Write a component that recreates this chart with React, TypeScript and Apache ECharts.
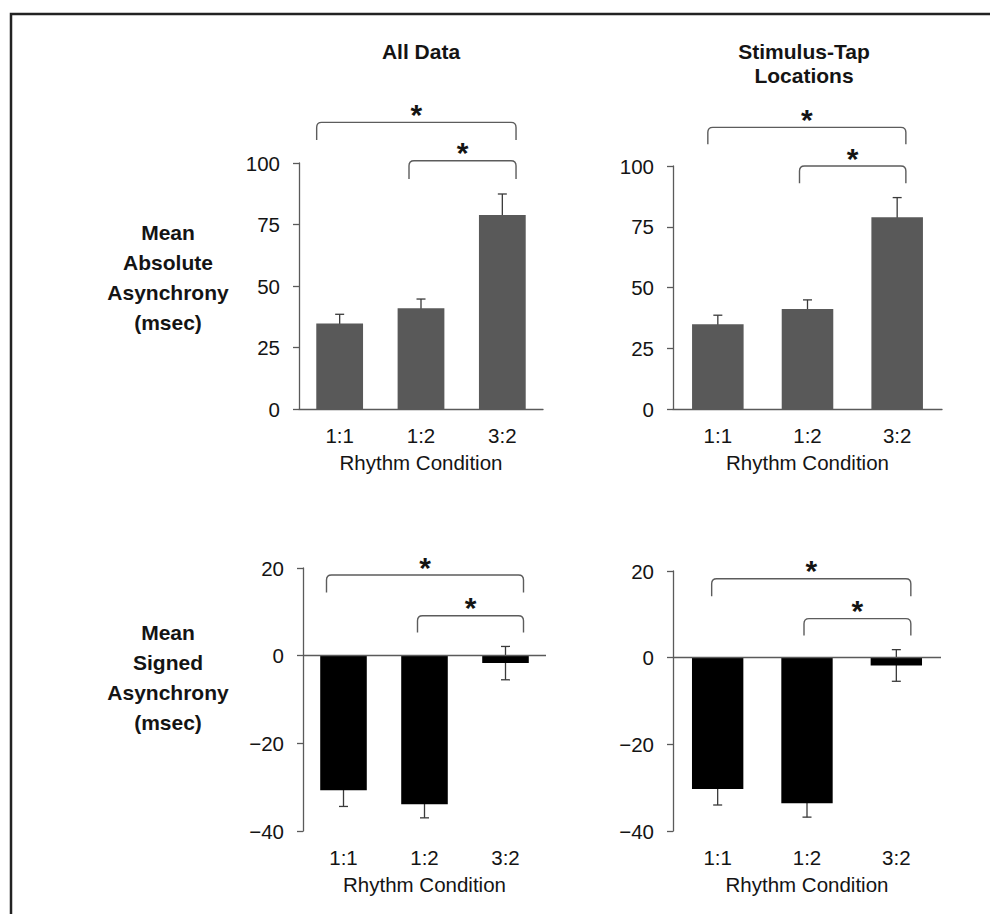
import React, { useEffect, useRef } from "react";
import * as echarts from "echarts";

// ---------- data ----------
const categories = ["1:1", "1:2", "3:2"];

const absAllMean = [34.8, 41.0, 78.9];
const absAllErr = [3.7, 3.7, 8.5];
const absStimMean = [34.9, 41.2, 78.9];
const absStimErr = [3.7, 3.7, 8.1];

const sigAllMean = [-30.7, -33.9, -1.7];
const sigAllErr = [3.7, 3.1, 3.8];
const sigStimMean = [-30.3, -33.6, -1.8];
const sigStimErr = [3.7, 3.2, 3.65];

const absTicks = [0, 25, 50, 75, 100];
const sigTicks = [-40, -20, 0, 20];

// significance comparisons: [fromCategory, toCategory, bracketLevel, legEnd]
const absAllBrackets = [
  [0, 2, 116.5, 109.3],
  [1, 2, 100.9, 93.5],
];
const absStimBrackets = [
  [0, 2, 115.9, 108.9],
  [1, 2, 100.0, 92.9],
];
const sigAllBrackets = [
  [0, 2, 18.4, 14.4],
  [1, 2, 9.1, 5.3],
];
const sigStimBrackets = [
  [0, 2, 18.2, 14.2],
  [1, 2, 9.0, 5.1],
];

const columnTitles = [["All Data"], ["Stimulus-Tap", "Locations"]];
const rowTitles = [
  ["Mean", "Absolute", "Asynchrony", "(msec)"],
  ["Mean", "Signed", "Asynchrony", "(msec)"],
];
const xName = "Rhythm Condition";

// ---------- layout / style ----------
const FONT = "'Liberation Sans', Arial, Helvetica, sans-serif";
const AXIS_COLOR = "#5a5a5a";
const TEXT_COLOR = "#141414";
const FS = 20.5;

type Panel = {
  grid: { left: number; top: number; width: number; height: number };
  means: number[];
  errs: number[];
  ticks: number[];
  color: string;
  brackets: number[][];
  offsets: number[][]; // pixel offsets of bracket ends from category centres
  zeroLine: boolean;
};

const panels: Panel[] = [
  {
    grid: { left: 299, top: 163, width: 244, height: 246 },
    means: absAllMean,
    errs: absAllErr,
    ticks: absTicks,
    color: "#595959",
    brackets: absAllBrackets,
    offsets: [
      [-23, 13.7],
      [-12, 13.7],
    ],
    zeroLine: false,
  },
  {
    grid: { left: 673, top: 166, width: 269, height: 243 },
    means: absStimMean,
    errs: absStimErr,
    ticks: absTicks,
    color: "#595959",
    brackets: absStimBrackets,
    offsets: [
      [-10, 8.7],
      [-8, 8.7],
    ],
    zeroLine: false,
  },
  {
    grid: { left: 303, top: 568, width: 243, height: 263 },
    means: sigAllMean,
    errs: sigAllErr,
    ticks: sigTicks,
    color: "#000000",
    brackets: sigAllBrackets,
    offsets: [
      [-17, 18],
      [-7, 18],
    ],
    zeroLine: true,
  },
  {
    grid: { left: 673, top: 571, width: 268, height: 260 },
    means: sigStimMean,
    errs: sigStimErr,
    ticks: sigTicks,
    color: "#000000",
    brackets: sigStimBrackets,
    offsets: [
      [-6, 14.5],
      [-3, 14.5],
    ],
    zeroLine: true,
  },
];

function buildOption() {
  const grid: any[] = [];
  const xAxis: any[] = [];
  const yAxis: any[] = [];
  const series: any[] = [];

  panels.forEach((p, gi) => {
    grid.push({ ...p.grid, containLabel: false });
    xAxis.push({
      type: "category",
      gridIndex: gi,
      data: categories,
      axisLine: {
        show: !p.zeroLine,
        onZero: false,
        lineStyle: { color: AXIS_COLOR, width: 1.3 },
      },
      axisTick: { show: false },
      axisLabel: {
        margin: 16,
        fontSize: FS,
        fontFamily: FONT,
        color: TEXT_COLOR,
      },
      name: xName,
      nameLocation: "middle",
      nameGap: 43,
      nameTextStyle: { fontSize: FS, fontFamily: FONT, color: TEXT_COLOR },
    });
    const tmin = p.ticks[0];
    const tmax = p.ticks[p.ticks.length - 1];
    yAxis.push({
      type: "value",
      gridIndex: gi,
      min: tmin,
      max: tmax,
      interval: p.ticks[1] - p.ticks[0],
      axisLine: { show: true, lineStyle: { color: AXIS_COLOR, width: 1.3 } },
      axisTick: {
        show: true,
        inside: false,
        length: 6,
        lineStyle: { color: AXIS_COLOR, width: 1.3 },
      },
      splitLine: { show: false },
      axisLabel: {
        margin: 19,
        fontSize: FS,
        fontFamily: FONT,
        color: TEXT_COLOR,
        formatter: (v: number) => (v < 0 ? "\u2212" + Math.abs(v) : String(v)),
      },
    });

    // error bars (drawn beneath the bars)
    series.push({
      type: "custom",
      xAxisIndex: gi,
      yAxisIndex: gi,
      z: 2,
      clip: false,
      silent: true,
      data: p.means.map((m, i) => [i, m, p.errs[i]]),
      encode: { x: 0, y: 1 },
      renderItem: (params: any, api: any) => {
        const x = api.value(0);
        const m = api.value(1);
        const e = api.value(2);
        const hi = api.coord([x, m + e]);
        const lo = api.coord([x, m - e]);
        const hw = 4.5;
        const st = { stroke: "#3a3a3a", lineWidth: 1.3 };
        return {
          type: "group",
          children: [
            { type: "line", shape: { x1: hi[0], y1: hi[1], x2: lo[0], y2: lo[1] }, style: st },
            { type: "line", shape: { x1: hi[0] - hw, y1: hi[1], x2: hi[0] + hw, y2: hi[1] }, style: st },
            { type: "line", shape: { x1: lo[0] - hw, y1: lo[1], x2: lo[0] + hw, y2: lo[1] }, style: st },
          ],
        };
      },
    });

    // bars
    const bar: any = {
      type: "bar",
      xAxisIndex: gi,
      yAxisIndex: gi,
      z: 3,
      barWidth: "57.5%",
      silent: true,
      itemStyle: { color: p.color },
      data: p.means,
    };
    if (p.zeroLine) {
      bar.markLine = {
        silent: true,
        symbol: ["none", "none"],
        label: { show: false },
        lineStyle: { type: "solid", color: AXIS_COLOR, width: 1.3 },
        data: [{ yAxis: 0 }],
        z: 4,
      };
    }
    series.push(bar);

    // significance brackets
    series.push({
      type: "custom",
      xAxisIndex: gi,
      yAxisIndex: gi,
      z: 5,
      clip: false,
      silent: true,
      data: p.brackets,
      encode: { x: [0, 1], y: [2, 3] },
      renderItem: (params: any, api: any) => {
        const idx = params.dataIndex;
        const off = p.offsets[idx];
        const a = api.coord([api.value(0), api.value(2)]);
        const b = api.coord([api.value(1), api.value(2)]);
        const leg = api.coord([api.value(0), api.value(3)]);
        const x1 = a[0] + off[0];
        const x2 = b[0] + off[1];
        const yT = a[1];
        const yL = leg[1];
        const r = 5;
        const d =
          `M${x1},${yL} L${x1},${yT + r} Q${x1},${yT} ${x1 + r},${yT} ` +
          `L${x2 - r},${yT} Q${x2},${yT} ${x2},${yT + r} L${x2},${yL}`;
        return {
          type: "group",
          children: [
            {
              type: "path",
              shape: { pathData: d },
              style: { stroke: "#5c5c5c", lineWidth: 1.4, fill: "none" },
            },
            {
              type: "text",
              style: {
                text: "*",
                x: (x1 + x2) / 2,
                y: yT - 8,
                align: "center",
                verticalAlign: "middle",
                fontSize: 30,
                fontWeight: "bold",
                fontFamily: FONT,
                fill: TEXT_COLOR,
              },
            },
          ],
        };
      },
    });
  });

  const graphic: any[] = [
    {
      type: "rect",
      shape: { x: 11, y: 14, width: 1200, height: 1200 },
      style: { fill: "none", stroke: "#222222", lineWidth: 2.5 },
      silent: true,
    },
  ];
  const colX = [421, 804];
  columnTitles.forEach((lines, ci) => {
    lines.forEach((t, li) => {
      graphic.push({
        type: "text",
        x: colX[ci],
        y: 51 + li * 24,
        style: {
          text: t,
          align: "center",
          verticalAlign: "middle",
          fontSize: 21,
          fontWeight: "bold",
          fontFamily: FONT,
          fill: TEXT_COLOR,
        },
      });
    });
  });
  const rowY = [232, 632];
  rowTitles.forEach((lines, ri) => {
    lines.forEach((t, li) => {
      graphic.push({
        type: "text",
        x: 168,
        y: rowY[ri] + li * 30,
        style: {
          text: t,
          align: "center",
          verticalAlign: "middle",
          fontSize: 21,
          fontWeight: "bold",
          fontFamily: FONT,
          fill: TEXT_COLOR,
        },
      });
    });
  });

  return {
    animation: false,
    backgroundColor: "#ffffff",
    textStyle: { fontFamily: FONT },
    grid,
    xAxis,
    yAxis,
    series,
    graphic,
  };
}

export default function App() {
  const ref = useRef<HTMLDivElement | null>(null);
  useEffect(() => {
    if (!ref.current) return;
    const chart = echarts.init(ref.current, undefined, { renderer: "svg" });
    chart.setOption(buildOption() as any);
    return () => chart.dispose();
  }, []);
  return (
    <div
      ref={ref}
      style={{ position: "absolute", left: 0, top: 0, width: 990, height: 914, background: "#fff" }}
    />
  );
}
